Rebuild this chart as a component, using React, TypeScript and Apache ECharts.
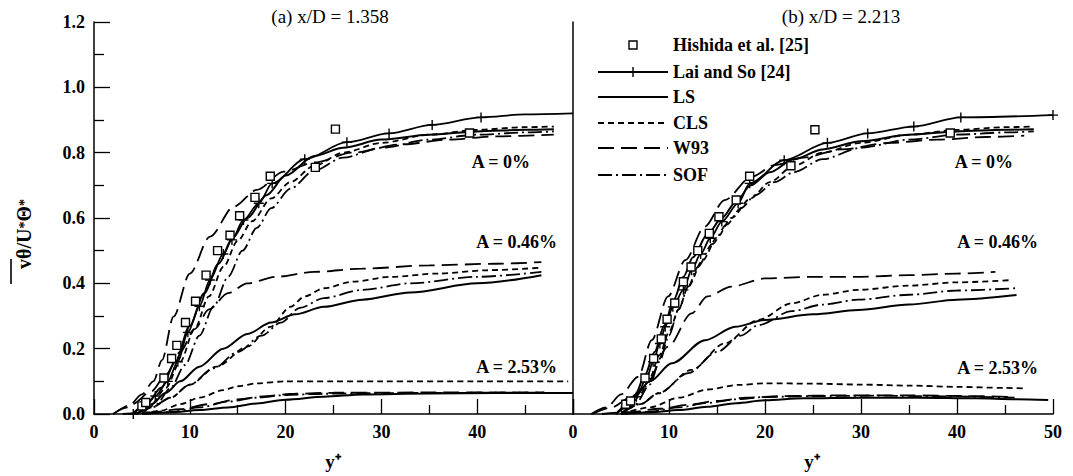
import React, { useEffect, useRef } from "react";
import * as echarts from "echarts";

// ---------- data: panel (a) x/D = 1.358 ----------
const hishidaA = [[5.0,0.025],[5.4,0.035],[7.3,0.11],[8.1,0.17],[8.65,0.21],[9.55,0.28],[10.6,0.345],[11.7,0.425],[12.9,0.5],[14.2,0.547],[15.2,0.607],[16.8,0.663],[18.4,0.728],[23.1,0.755],[25.2,0.872],[39.2,0.86]];
// [y+, value, marker?]
const laiSoA = [[4.1,0,1],[5.3,0.025,0],[6.4,0.055,1],[7.7,0.1,1],[8.75,0.16,1],[9.8,0.25,1],[11,0.33,1],[12.1,0.41,1],[13.5,0.49,1],[14.4,0.533,1],[15.6,0.594,1],[17.2,0.645,1],[18.6,0.706,1],[22,0.78,1],[26.4,0.832,1],[30.8,0.859,1],[35.3,0.885,1],[40.4,0.908,1],[45,0.917,0],[50,0.92,0]];
const lsA0 = [[4,0],[5.5,0.03],[7,0.08],[8.5,0.16],[10,0.27],[11.5,0.37],[13,0.46],[14.5,0.54],[16,0.6],[18,0.67],[20,0.73],[23,0.79],[26,0.815],[30,0.84],[35,0.855],[40,0.865],[45,0.87],[48,0.872]];
const clsA0 = [[4.5,0],[6,0.03],[7.5,0.08],[9,0.16],[10.5,0.26],[12,0.36],[13.5,0.45],[15,0.53],[16.5,0.59],[18.5,0.66],[20.5,0.71],[23,0.76],[26,0.8],[30,0.83],[35,0.855],[40,0.87],[45,0.878],[48,0.88]];
const w93A0 = [[2,0],[3.5,0.02],[5,0.06],[6.2,0.1],[7.1,0.165],[8.3,0.298],[10,0.43],[12.1,0.543],[14.6,0.635],[17,0.686],[19.8,0.742],[23,0.77],[27,0.8],[32,0.825],[37,0.84],[42,0.85],[48,0.855]];
const sofA0 = [[5,0],[6.5,0.03],[8,0.08],[9.5,0.15],[11,0.24],[12.5,0.33],[14,0.42],[15.5,0.5],[17,0.57],[18.5,0.63],[20.5,0.69],[23,0.745],[26,0.785],[30,0.815],[35,0.84],[40,0.855],[45,0.862],[48,0.865]];
const lsA046 = [[4.5,0],[6,0.03],[7.5,0.065],[9,0.1],[11,0.145],[13.5,0.2],[16,0.245],[18.5,0.28],[21,0.305],[24,0.328],[28,0.35],[33,0.372],[40,0.4],[46.7,0.425]];
const clsA046 = [[4.5,0],[6,0.02],[8,0.05],[10,0.09],[12.8,0.145],[16,0.206],[18.4,0.267],[20.5,0.328],[22,0.36],[24,0.385],[27,0.405],[31,0.42],[36,0.43],[41,0.44],[46.7,0.448]];
const w93A046 = [[2,0],[4,0.03],[6,0.07],[7.5,0.12],[9,0.19],[10.5,0.26],[12,0.32],[14,0.37],[16,0.4],[19,0.42],[23,0.435],[28,0.445],[35,0.455],[42,0.46],[46.7,0.465]];
const sofA046 = [[4.5,0],[6,0.02],[8,0.05],[10,0.09],[12.5,0.14],[15,0.19],[17.5,0.24],[19.5,0.28],[21.5,0.325],[24,0.355],[28,0.38],[33,0.4],[40,0.42],[46.7,0.435]];
const lsA253 = [[5,0],[8,0.005],[11,0.012],[14,0.02],[17,0.032],[20,0.044],[24,0.053],[28,0.06],[35,0.063],[42,0.064],[50,0.064]];
const clsA253 = [[5,0],[7,0.01],[9,0.03],[11,0.05],[13.5,0.073],[15,0.085],[17,0.094],[20,0.1],[25,0.1],[30,0.1],[40,0.1],[49.5,0.1]];
const w93A253 = [[3,0],[6,0.005],[9,0.015],[12,0.03],[15,0.045],[18,0.055],[21,0.062],[25,0.065],[35,0.066],[47,0.066]];
const sofA253 = [[5,0],[8,0.006],[11,0.02],[14,0.038],[17,0.05],[20,0.058],[24,0.062],[30,0.064],[40,0.065],[47,0.065]];

// ---------- data: panel (b) x/D = 2.213 ----------
const hishidaB = [[5.5,0.03],[6,0.04],[7.5,0.11],[8.4,0.17],[9.2,0.23],[9.8,0.29],[10.6,0.34],[11.5,0.405],[12.3,0.45],[13,0.5],[14.2,0.553],[15.2,0.604],[17,0.655],[18.4,0.728],[22.7,0.76],[25.2,0.87],[39.3,0.86]];
const laiSoB = [[4.5,0,0],[5.5,0.02,1],[6.6,0.053,1],[7.65,0.109,1],[8.35,0.16,1],[9.05,0.216,1],[9.6,0.267,1],[10.4,0.328,1],[11.5,0.38,1],[12.35,0.44,1],[13.3,0.49,1],[14.3,0.538,1],[15.5,0.589,1],[17.2,0.645,1],[18.4,0.706,1],[22,0.777,1],[26.5,0.83,1],[30.7,0.859,1],[35.5,0.88,1],[40.4,0.908,1],[50,0.915,1]];
const lsB0 = [[4.5,0],[5.5,0.02],[6.5,0.06],[7.5,0.12],[8.5,0.19],[9.5,0.27],[10.5,0.35],[11.5,0.42],[12.5,0.48],[14,0.55],[15.5,0.6],[17,0.65],[18.5,0.7],[20.5,0.74],[23,0.78],[26,0.81],[30,0.835],[35,0.855],[40,0.865],[45,0.87],[48,0.872]];
const clsB0 = [[5,0],[6,0.02],[7,0.06],[8,0.11],[9,0.18],[10,0.25],[11,0.32],[12,0.39],[13.5,0.47],[15,0.54],[16.5,0.6],[18.5,0.66],[20.5,0.71],[23,0.76],[26,0.8],[30,0.83],[35,0.855],[40,0.87],[45,0.878],[48,0.88]];
const w93B0 = [[1.9,0],[3.5,0.02],[5,0.06],[6.8,0.114],[8.2,0.226],[9.9,0.36],[11.7,0.471],[13.7,0.573],[15.8,0.655],[18.6,0.726],[21,0.762],[24,0.785],[28,0.81],[33,0.83],[38,0.84],[43,0.848],[47,0.852]];
const sofB0 = [[5,0],[6.5,0.03],[8,0.09],[9,0.16],[10,0.24],[11,0.32],[12,0.39],[13,0.45],[14.5,0.52],[16,0.58],[17.5,0.63],[19,0.67],[21,0.71],[23,0.74],[26,0.78],[30,0.815],[35,0.84],[40,0.855],[45,0.862],[48,0.865]];
const lsB046 = [[4.5,0],[5.5,0.025],[6.4,0.053],[8,0.1],[10.3,0.155],[13.75,0.226],[16.9,0.267],[20,0.288],[25,0.305],[29.7,0.318],[35,0.335],[40,0.35],[46.2,0.364]];
const clsB046 = [[5,0],[7,0.03],[8.9,0.063],[12.35,0.135],[15.8,0.216],[19.3,0.288],[22.8,0.339],[26,0.365],[29.7,0.38],[35,0.393],[40,0.403],[45.7,0.41]];
const w93B046 = [[2,0],[4,0.02],[6,0.05],[7.5,0.084],[9.9,0.206],[12.35,0.308],[14,0.36],[16.5,0.39],[20,0.415],[25,0.42],[30,0.42],[35,0.425],[40,0.43],[44,0.435]];
const sofB046 = [[5,0],[7,0.03],[9,0.065],[12,0.125],[15,0.19],[17.5,0.24],[19.3,0.272],[22.8,0.315],[26,0.335],[29.7,0.35],[35,0.365],[40,0.378],[46.1,0.385]];
const lsB253 = [[5,0],[8,0.005],[11,0.012],[14,0.022],[17,0.033],[20,0.042],[24,0.048],[30,0.05],[36,0.05],[42,0.048],[46,0.045],[49.5,0.043]];
const clsB253 = [[5,0],[8,0.02],[11,0.05],[14,0.075],[17.2,0.089],[20,0.094],[25,0.093],[30,0.09],[35,0.087],[40,0.083],[45,0.08],[47,0.078]];
const w93B253 = [[3,0],[6,0.006],[9,0.016],[12,0.028],[15,0.04],[18,0.05],[22,0.055],[28,0.057],[35,0.057],[41,0.055],[46,0.052]];
const sofB253 = [[5,0],[8,0.007],[11,0.02],[14,0.034],[17,0.045],[20,0.052],[25,0.055],[32,0.056],[39,0.054],[46,0.05]];

const xTicks = [0, 10, 20, 30, 40, 50];
const legendNames = ["Hishida et al. [25]", "Lai and So [24]", "LS", "CLS", "W93", "SOF"];
const curveLabels = ["A = 0%", "A = 0.46%", "A = 2.53%"];
const panelTitles = ["(a) x/D = 1.358", "(b) x/D = 2.213"];

const SERIF = "'Liberation Serif', 'Times New Roman', serif";
const PLUS = "path://M0,4.3H10V5.7H0Z M4.3,0H5.7V10H4.3Z";

const modelStyle: Record<string, any> = {
  LS: { type: "solid", width: 2 },
  CLS: { type: [6, 4], width: 1.8 },
  W93: { type: [16, 7], width: 1.8 },
  SOF: { type: [14, 4, 2, 4], width: 1.8 },
};

function model(name: string, data: number[][], p: number) {
  return {
    type: "line", name, xAxisIndex: p, yAxisIndex: p, data,
    symbol: "none", smooth: 0.3, smoothMonotone: "x",
    lineStyle: { color: "#000", ...modelStyle[name] },
    itemStyle: { color: "#000" }, z: 2,
  };
}
function laiSo(data: number[][], p: number) {
  return {
    type: "line", name: legendNames[1], xAxisIndex: p, yAxisIndex: p,
    data: data.map((d) => ({ value: [d[0], d[1]], symbol: d[2] ? PLUS : "none" })),
    symbol: PLUS, symbolSize: 10, showSymbol: true, smooth: 0.3, smoothMonotone: "x",
    lineStyle: { color: "#000", width: 1.8 }, itemStyle: { color: "#000" }, z: 3,
  };
}
function hishida(data: number[][], p: number) {
  return {
    type: "scatter", name: legendNames[0], xAxisIndex: p, yAxisIndex: p, data,
    symbol: "rect", symbolSize: 8,
    itemStyle: { color: "#fff", borderColor: "#000", borderWidth: 1.4, opacity: 1 }, z: 4,
  };
}

const panels = [
  { hishida: hishidaA, lai: laiSoA, LS: [lsA0, lsA046, lsA253], CLS: [clsA0, clsA046, clsA253], W93: [w93A0, w93A046, w93A253], SOF: [sofA0, sofA046, sofA253] },
  { hishida: hishidaB, lai: laiSoB, LS: [lsB0, lsB046, lsB253], CLS: [clsB0, clsB046, clsB253], W93: [w93B0, w93B046, w93B253], SOF: [sofB0, sofB046, sofB253] },
];

function buildSeries() {
  const out: any[] = [];
  panels.forEach((pn, p) => {
    out.push(hishida(pn.hishida, p));
    out.push(laiSo(pn.lai, p));
    (["LS", "CLS", "W93", "SOF"] as const).forEach((m) => {
      (pn as any)[m].forEach((d: number[][]) => out.push(model(m, d, p)));
    });
  });
  return out;
}

const labelFont = { fontFamily: SERIF, fontWeight: "bold", fontSize: 18, color: "#000" };

function xAxis(p: number) {
  return {
    type: "value", gridIndex: p, min: xTicks[0], max: xTicks[xTicks.length - 1], interval: 10,
    axisLine: { show: true, onZero: false, lineStyle: { color: "#000", width: 1.5 } },
    axisTick: { show: true, inside: true, length: 15, lineStyle: { color: "#000", width: 1.3 } },
    minorTick: { show: true, splitNumber: 2, length: 9, lineStyle: { color: "#000", width: 1.3 } },
    splitLine: { show: false },
    axisLabel: {
      ...labelFont, margin: 9,
      formatter: (v: number) => (p === 0 && v === 50 ? "" : String(v)),
    },
  };
}

// ---- legend drawn as graphic (layout only) ----
const LX0 = 598, LX1 = 668, LTX = 673;
const legendRowsY = [45, 72, 97, 123, 148, 175];
const legendDash: (number[] | null)[] = [null, null, null, [6, 4], [16, 7], [14, 4, 2, 4]];
function legendGraphics() {
  const g: any[] = [];
  legendNames.forEach((name, i) => {
    const y = legendRowsY[i];
    const cx = (LX0 + LX1) / 2;
    if (i === 0) {
      g.push({ type: "rect", shape: { x: cx - 4, y: y - 4, width: 8, height: 8 }, style: { fill: "#fff", stroke: "#000", lineWidth: 1.4 } });
    } else {
      g.push({ type: "line", shape: { x1: LX0, y1: y, x2: LX1, y2: y }, style: { stroke: "#000", lineWidth: i <= 2 ? 2 : 1.8, lineDash: legendDash[i] || undefined } });
      if (i === 1) {
        g.push({ type: "line", shape: { x1: cx, y1: y - 5, x2: cx, y2: y + 5 }, style: { stroke: "#000", lineWidth: 1.4 } });
      }
    }
    g.push({ type: "text", x: LTX, y, style: { text: name, font: `bold 18px ${SERIF}`, fill: "#000", align: "left", verticalAlign: "middle" } });
  });
  return g;
}

const T = (x: number, y: number, text: string, font: string, align = "center") => ({
  type: "text", x, y, style: { text, font, fill: "#000", align, verticalAlign: "middle" },
});

const option: any = {
  animation: false,
  backgroundColor: "#fff",
  grid: [
    { left: 94, top: 22, width: 479, height: 392 },
    { left: 573, top: 22, width: 480, height: 392 },
  ],
  xAxis: [xAxis(0), xAxis(1)],
  yAxis: [
    {
      type: "value", gridIndex: 0, min: 0, max: 1.2, interval: 0.2,
      axisLine: { show: true, lineStyle: { color: "#000", width: 1.5 } },
      axisTick: { show: true, inside: true, length: 16, lineStyle: { color: "#000", width: 1.3 } },
      minorTick: { show: true, splitNumber: 2, length: 10, lineStyle: { color: "#000", width: 1.3 } },
      splitLine: { show: false },
      axisLabel: { ...labelFont, margin: 9, formatter: (v: number) => v.toFixed(1) },
    },
    {
      type: "value", gridIndex: 1, min: 0, max: 1.2, interval: 0.2,
      axisLine: { show: true, lineStyle: { color: "#000", width: 1.5 } },
      axisTick: { show: false }, minorTick: { show: false },
      splitLine: { show: false }, axisLabel: { show: false },
    },
  ],
  series: buildSeries(),
  graphic: [
    T(330, 16, panelTitles[0], `19px ${SERIF}`),
    T(841, 16, panelTitles[1], `19px ${SERIF}`),
    T(530, 162, curveLabels[0], `bold 18px ${SERIF}`, "right"),
    T(1013, 162, curveLabels[0], `bold 18px ${SERIF}`, "right"),
    T(557, 242, curveLabels[1], `bold 18px ${SERIF}`, "right"),
    T(1038, 242, curveLabels[1], `bold 18px ${SERIF}`, "right"),
    T(557, 367, curveLabels[2], `bold 18px ${SERIF}`, "right"),
    T(1038, 368, curveLabels[2], `bold 18px ${SERIF}`, "right"),
    T(333, 461, "y⁺", `bold 19px ${SERIF}`),
    T(812, 461, "y⁺", `bold 19px ${SERIF}`),
    {
      type: "text", x: 24, y: 234, rotation: Math.PI / 2,
      style: {
        text: "{m|vθ/U}{s|*}{m|Θ}{s|*}", fill: "#000", align: "center", verticalAlign: "middle",
        rich: { m: { fontFamily: SERIF, fontWeight: "bold", fontSize: 20 }, s: { fontFamily: SERIF, fontWeight: "bold", fontSize: 14 } },
      },
    },
    { type: "line", shape: { x1: 11, y1: 259, x2: 11, y2: 284 }, style: { stroke: "#000", lineWidth: 1.6 } },
    ...legendGraphics(),
  ],
};

export default function App() {
  const ref = useRef<HTMLDivElement>(null);
  useEffect(() => {
    const chart = echarts.init(ref.current!, null, { renderer: "svg" });
    chart.setOption(option);
    return () => chart.dispose();
  }, []);
  return <div ref={ref} style={{ position: "fixed", left: 0, top: 0, width: 1073, height: 476, background: "#fff" }} />;
}
